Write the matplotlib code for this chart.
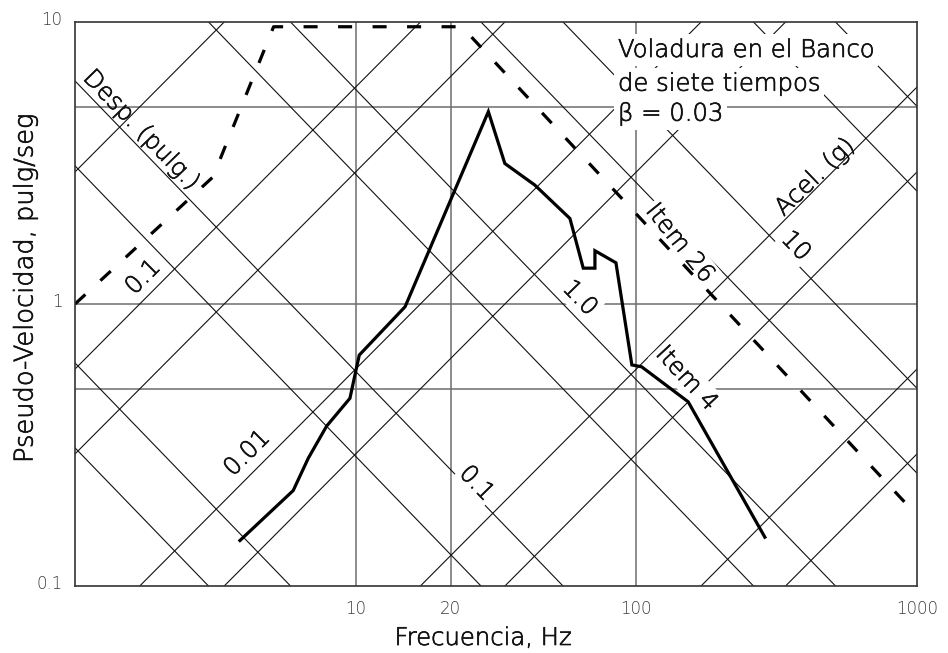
import matplotlib
matplotlib.use("Agg")
import numpy as np
import matplotlib.pyplot as plt
import matplotlib.patheffects as pe
from matplotlib.transforms import ScaledTranslation

# ---- spectra (frequency in Hz, pseudo-velocity in in/s) ----
item4_freq = [3.87, 5.99, 6.78, 7.88, 9.54, 9.94, 10.3, 15.0, 29.7, 34.0,
              43.5, 58.0, 64.7, 71.2, 71.2, 84.6, 96.4, 104.4, 153.0, 287.0]
item4_vel = [0.145, 0.218, 0.284, 0.369, 0.463, 0.560, 0.659, 0.978, 4.81, 3.15,
             2.64, 2.01, 1.34, 1.34, 1.545, 1.40, 0.608, 0.599, 0.450, 0.149]

item26_freq = [1.0, 3.1, 5.1, 23.9, 1000.0]
item26_vel = [1.0, 2.82, 9.62, 9.62, 0.178]

# ---- tripartite reference lines ----
disp_levels = [5e-5, 1e-4, 5e-4, 1e-3, 5e-3, 1e-2, 5e-2, 0.1, 0.5]   # pulg.
acc_levels = [0.005, 0.01, 0.05, 0.1, 0.5, 1, 5, 10, 50, 100]         # g
DISP_COEF = 5.88      # V = DISP_COEF * f * D
ACC_COEF = 61.8       # V = ACC_COEF * A * f ** -ACC_EXP
ACC_EXP = 1.03

# ---- axes ticks / grid ----
x_ticks = [10, 21.8, 100, 1000]
x_tick_labels = ["10", "20", "100", "1000"]
y_ticks = [0.1, 1, 10]
y_tick_labels = ["0.1", "1", "10"]
h_grid = [0.5, 1, 5]
v_grid = [10, 21.8, 100]

plt.rcParams["font.family"] = ["DejaVu Sans"]
plt.rcParams["font.weight"] = 200
TXT = "#111111"
FS = 17.5
W = 200
thick = [pe.withStroke(linewidth=0.5, foreground=TXT)]

fig = plt.figure(figsize=(9.48, 6.53), dpi=100)
ax = fig.add_axes([75 / 948, 1 - 586 / 653, 842 / 948, 564 / 653])
ax.set_xscale("log")
ax.set_yscale("log")
ax.set_xlim(1, 1000)
ax.set_ylim(0.1, 10)

for v in h_grid:
    ax.axhline(v, color="#6e6e6e", lw=1.1, zorder=1)
for f in v_grid:
    ax.axvline(f, color="#6e6e6e", lw=1.1, zorder=1)

fline = np.array([0.5, 2000.0])
for d in disp_levels:
    ax.plot(fline, DISP_COEF * fline * d, color="#111111", lw=0.8, zorder=2)
for a in acc_levels:
    ax.plot(fline, ACC_COEF * a * fline ** (-ACC_EXP), color="#111111", lw=0.8, zorder=2)

ax.plot(item4_freq, item4_vel, color="black", lw=2.3, zorder=6,
        solid_joinstyle="miter")
ax.plot(item26_freq, item26_vel, color="black", lw=2.3, zorder=6,
        dashes=(4.4, 6.4), dash_capstyle="butt")

mask = dict(facecolor="white", edgecolor="none", pad=1.5)
labels = [
    ("Desp. (pulg.)", 1.72, 4.15, -46, False),
    ("0.1", 1.747, 1.246, 45, False),
    ("0.01", 4.10, 0.296, 45, False),
    ("0.1", 26.98, 0.2313, -46, True),
    ("1.0", 62.96, 1.05, -46, True),
    ("10", 370.3, 1.606, -46, True),
    ("Acel. (g)", 432.8, 2.82, 44, False),
    ("Item 26", 143.0, 1.645, -51, True),
    ("Item 4", 151.1, 0.545, -47, True),
]
for s, fx, vy, rot, masked in labels:
    ax.text(fx, vy, s, rotation=rot, rotation_mode="anchor", ha="center",
            va="center", fontsize=FS, color=TXT, zorder=4, fontweight=W,
            bbox=mask if masked else None, path_effects=thick)

for s, vy in [("Voladura en el Banco", 7.515), ("de siete tiempos", 5.706),
              ("β = 0.03", 4.467)]:
    ax.text(86.0, vy, s, ha="left", va="baseline", fontsize=FS, color=TXT,
            zorder=4, fontweight=W, path_effects=thick,
            bbox=dict(facecolor="white", edgecolor="none", pad=3))

ax.set_xticks(x_ticks)
ax.set_xticklabels(x_tick_labels, fontweight=W)
ax.set_yticks(y_ticks)
ax.set_yticklabels(y_tick_labels, fontweight=W)
ax.xaxis.set_minor_locator(matplotlib.ticker.NullLocator())
ax.yaxis.set_minor_locator(matplotlib.ticker.NullLocator())
ax.tick_params(length=0, labelsize=12, labelcolor="#3a3a3a")
ax.tick_params(axis="x", pad=10)
ax.tick_params(axis="y", pad=9)
for lab in ax.get_yticklabels():
    lab.set_transform(lab.get_transform() +
                      ScaledTranslation(0, 3 / 72, fig.dpi_scale_trans))

for sp in ax.spines.values():
    sp.set_color("#333333")
    sp.set_linewidth(1.2)
    sp.set_zorder(7)

fig.text(483 / 948, 1 - 638 / 653, "Frecuencia, Hz", ha="center", va="center",
         fontsize=FS, color=TXT, fontweight=W, path_effects=thick)
fig.text(25 / 948, 1 - 288 / 653, "Pseudo-Velocidad, pulg/seg", rotation=90,
         ha="center", va="center", fontsize=18.5, color=TXT, fontweight=W,
         path_effects=thick)

fig.savefig("out.png", dpi=100)
